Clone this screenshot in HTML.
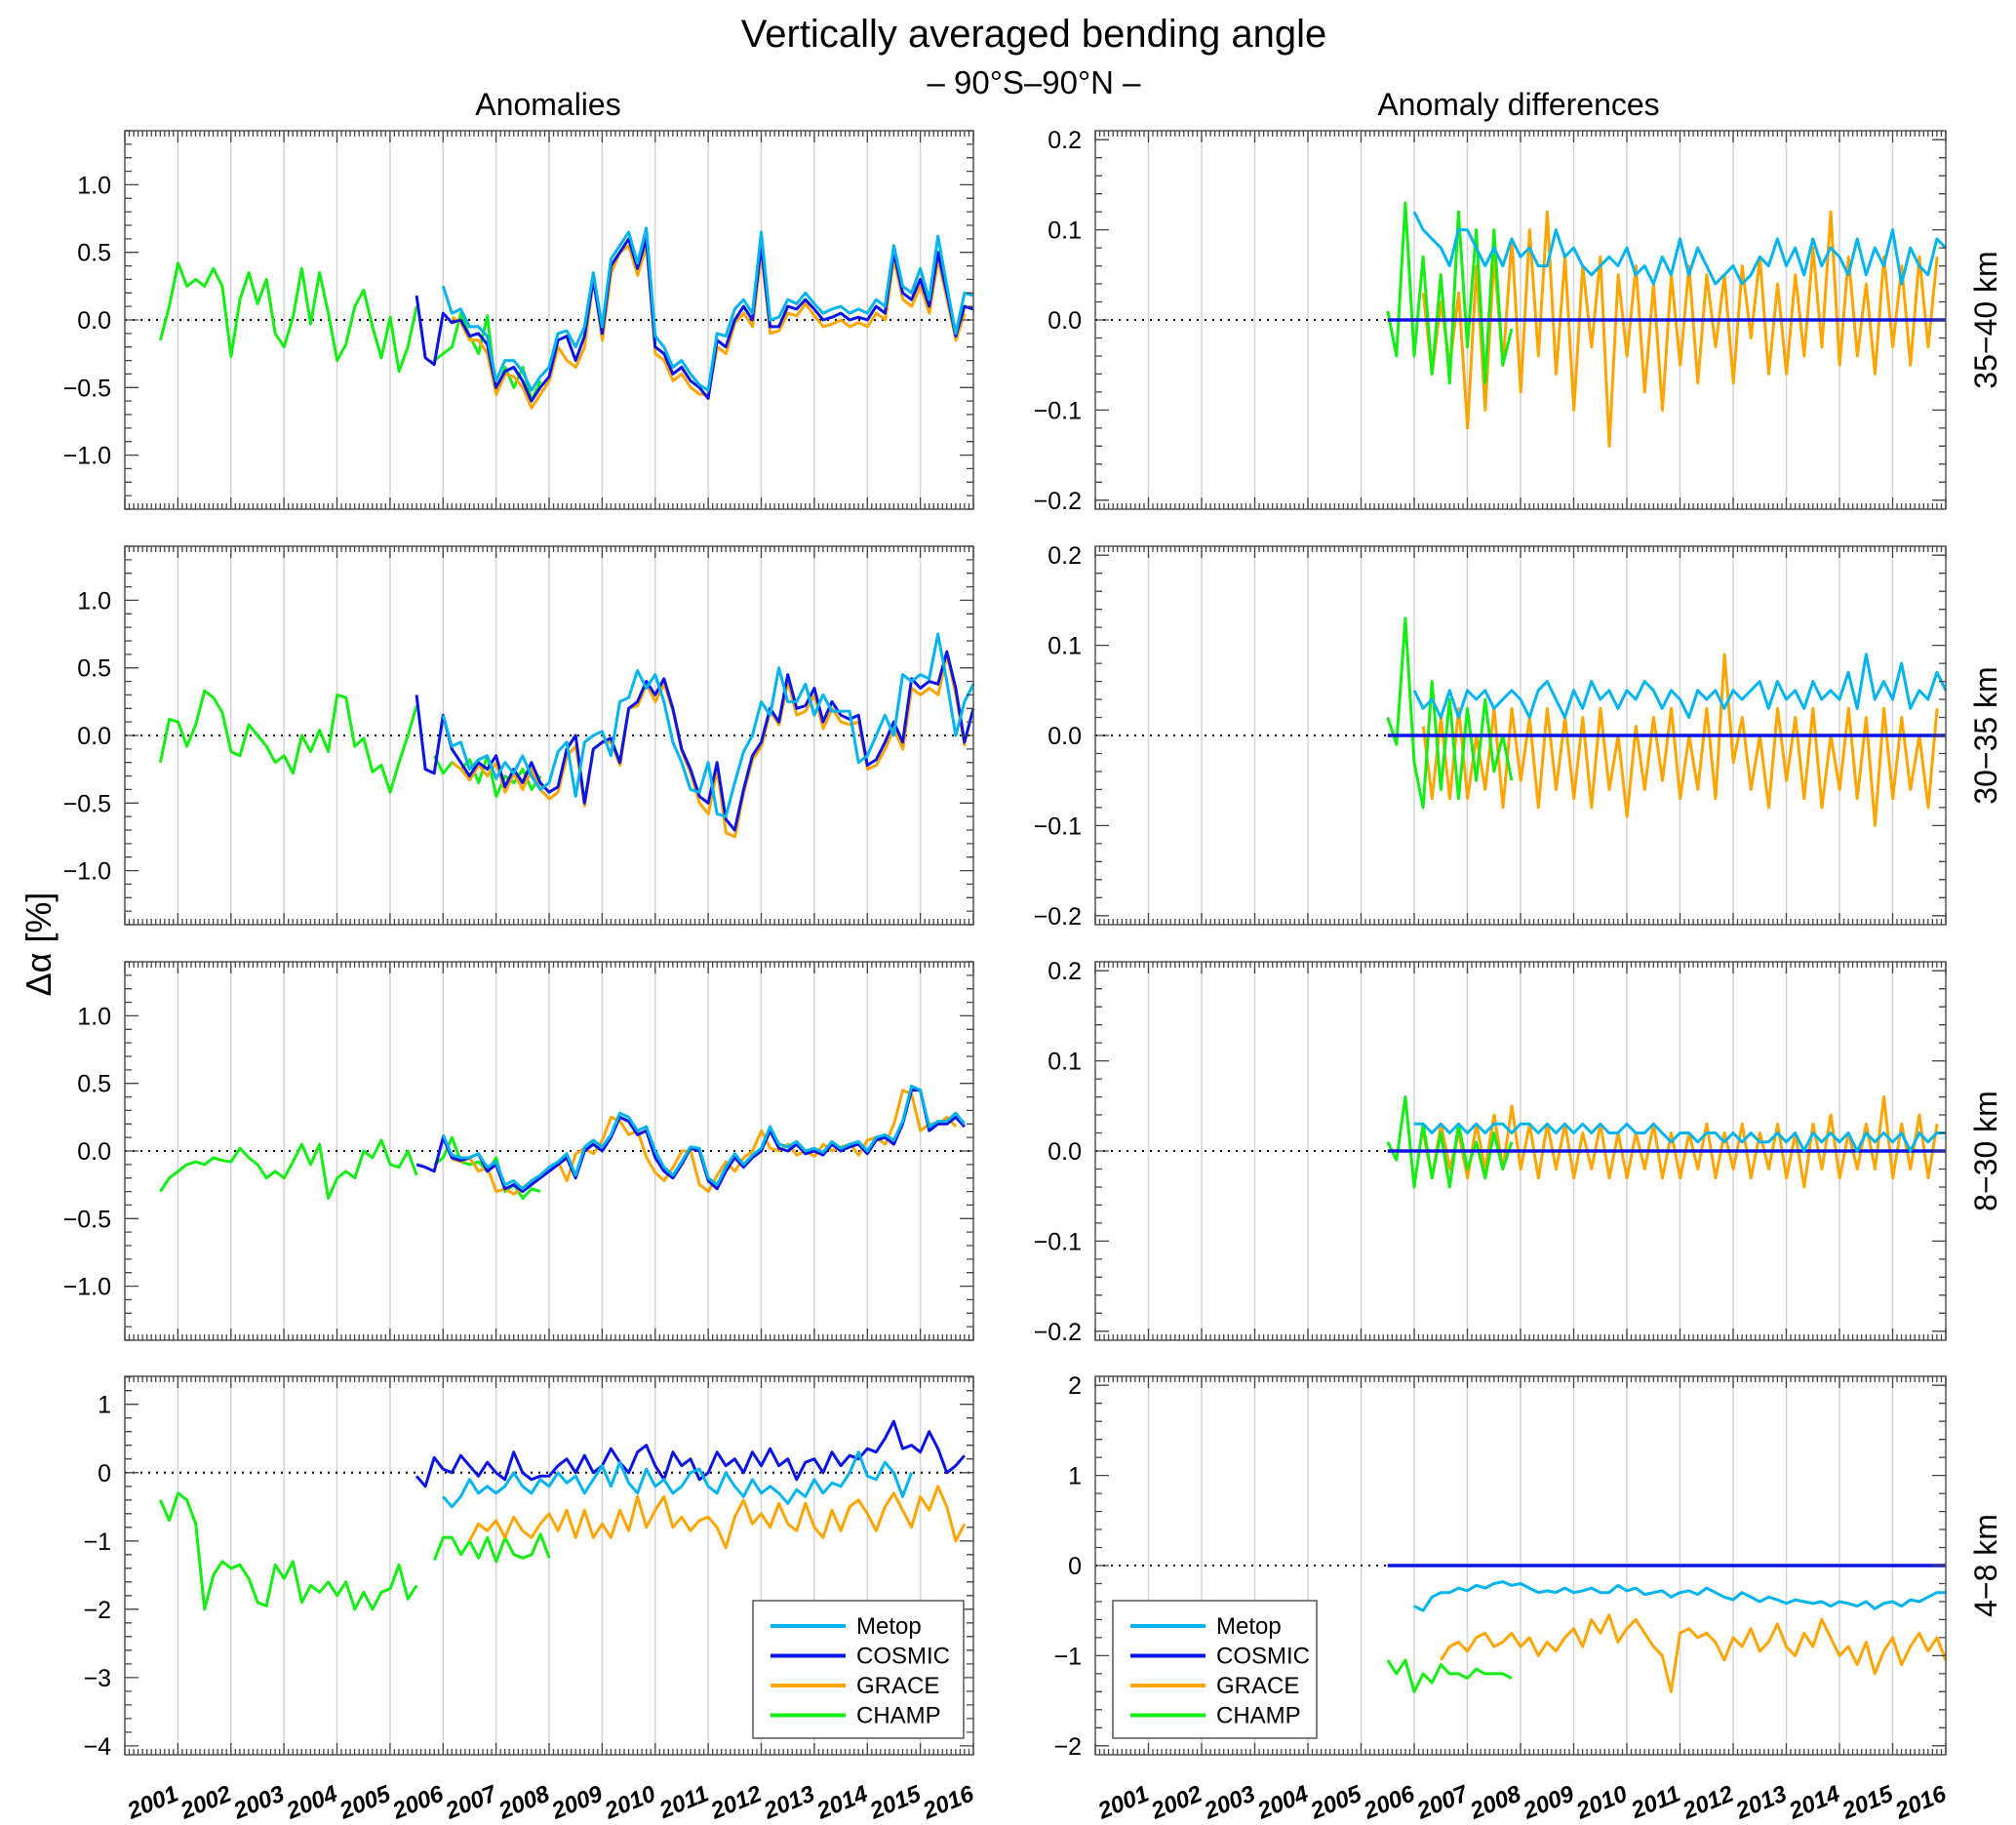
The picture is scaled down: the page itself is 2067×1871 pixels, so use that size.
<!DOCTYPE html>
<html><head><meta charset="utf-8">
<style>
html,body{margin:0;padding:0;background:#fff;}
svg{display:block;font-family:"Liberation Sans",sans-serif;}
</style></head>
<body>
<svg id="fig" width="2067" height="1871" viewBox="0 0 2067 1871" xmlns="http://www.w3.org/2000/svg">
<text x="1060" y="48" font-size="40" text-anchor="middle">Vertically averaged bending angle</text>
<text x="1060" y="96" font-size="33" text-anchor="middle">– 90°S–90°N –</text>
<text x="562" y="118" font-size="32" text-anchor="middle">Anomalies</text>
<text x="1557" y="118" font-size="32" text-anchor="middle">Anomaly differences</text>
<text x="0" y="0" font-size="36" text-anchor="middle" transform="translate(52,968) rotate(-90)">Δα  [%]</text>
</svg>
<script>
// ---------- DATA ----------
const years = [2001,2002,2003,2004,2005,2006,2007,2008,2009,2010,2011,2012,2013,2014,2015,2016];
const layerNames = ["35−40 km","30−35 km","8−30 km","4−8 km"];
const seriesNames = ["Metop","COSMIC","GRACE","CHAMP"];
const champStart = 2000.67, cosmicStart = 2005.5, metopStart = 2006.0, graceStart = 2006.17, step = 1/6;

// Left column (anomalies)
const p1Champ = [-0.15,0.1,0.42,0.25,0.3,0.25,0.38,0.25,-0.27,0.15,0.35,0.12,0.3,-0.1,-0.2,0.02,0.38,-0.03,0.35,0.05,-0.3,-0.18,0.1,0.22,-0.05,-0.28,0.02,-0.38,-0.2,0.1,null,-0.3,-0.25,-0.2,0.05,-0.12,-0.25,0.03,-0.55,-0.35,-0.5,-0.35,-0.6,-0.45];
const p1Cosmic = [0.18,-0.28,-0.33,0.05,-0.02,0.0,-0.12,-0.1,-0.18,-0.5,-0.38,-0.35,-0.45,-0.6,-0.5,-0.42,-0.15,-0.12,-0.3,-0.12,0.3,-0.1,0.4,0.5,0.6,0.38,0.6,-0.2,-0.25,-0.4,-0.35,-0.45,-0.5,-0.58,-0.15,-0.2,0.0,0.1,0.0,0.55,-0.05,-0.05,0.1,0.08,0.15,0.08,0.0,0.02,0.05,0.0,0.02,0.0,0.1,0.05,0.5,0.2,0.15,0.3,0.1,0.5,0.2,-0.12,0.1,0.08];
const p1Metop = [0.25,0.05,0.08,-0.05,-0.05,-0.12,-0.45,-0.3,-0.3,-0.38,-0.52,-0.42,-0.35,-0.1,-0.08,-0.2,-0.05,0.35,-0.05,0.45,0.55,0.65,0.42,0.68,-0.12,-0.2,-0.35,-0.3,-0.4,-0.48,-0.52,-0.1,-0.12,0.08,0.15,0.05,0.65,0.0,0.02,0.15,0.12,0.2,0.12,0.05,0.08,0.1,0.05,0.08,0.05,0.15,0.1,0.55,0.25,0.2,0.38,0.15,0.62,0.25,-0.1,0.2,0.18];
const p1Grace = [0.02,-0.02,-0.15,-0.15,-0.25,-0.55,-0.4,-0.42,-0.5,-0.65,-0.55,-0.45,-0.2,-0.3,-0.35,-0.2,0.3,-0.15,0.35,0.5,0.55,0.33,0.55,-0.25,-0.3,-0.45,-0.4,-0.5,-0.55,-0.55,-0.2,-0.25,-0.02,0.05,-0.05,0.5,-0.1,-0.08,0.05,0.03,0.12,0.03,-0.05,-0.03,0.0,-0.05,-0.02,-0.05,0.05,0.0,0.45,0.15,0.1,0.25,0.05,0.45,0.15,-0.15,0.05,0.05];
const p2Champ = [-0.2,0.12,0.1,-0.08,0.08,0.33,0.28,0.17,-0.12,-0.15,0.08,0.0,-0.08,-0.2,-0.15,-0.28,0.0,-0.12,0.04,-0.12,0.3,0.28,-0.08,-0.02,-0.27,-0.22,-0.42,-0.2,0.0,0.22,null,-0.15,-0.28,-0.2,-0.25,-0.18,-0.35,-0.15,-0.45,-0.3,-0.35,-0.25,-0.4,-0.3];
const p2Cosmic = [0.3,-0.25,-0.28,0.15,-0.1,-0.2,-0.3,-0.2,-0.25,-0.15,-0.38,-0.25,-0.35,-0.2,-0.35,-0.42,-0.38,-0.1,0.0,-0.5,-0.1,-0.05,-0.02,-0.2,0.2,0.25,0.4,0.3,0.42,0.2,-0.1,-0.25,-0.45,-0.5,-0.2,-0.62,-0.7,-0.4,-0.15,-0.05,0.2,0.1,0.45,0.2,0.22,0.35,0.1,0.25,0.15,0.12,0.15,-0.22,-0.18,-0.05,0.1,-0.05,0.42,0.35,0.4,0.38,0.62,0.35,-0.05,0.2,0.3,0.22];
const p2Metop = [0.15,-0.08,-0.05,-0.25,-0.18,-0.15,-0.32,-0.2,-0.28,-0.15,-0.3,-0.4,-0.35,-0.12,-0.05,-0.45,-0.05,0.0,0.03,-0.15,0.25,0.28,0.48,0.35,0.45,0.25,-0.05,-0.2,-0.4,-0.42,-0.2,-0.58,-0.6,-0.35,-0.12,0.0,0.25,0.15,0.5,0.25,0.25,0.38,0.15,0.3,0.18,0.18,0.18,-0.2,-0.15,0.0,0.15,0.0,0.45,0.4,0.45,0.42,0.75,0.4,0.0,0.25,0.38,0.3];
const p2Grace = [-0.2,-0.25,-0.33,-0.22,-0.3,-0.2,-0.42,-0.28,-0.4,-0.25,-0.4,-0.47,-0.42,-0.15,-0.08,-0.52,-0.1,-0.05,-0.05,-0.22,0.2,0.22,0.38,0.25,0.38,0.18,-0.12,-0.28,-0.5,-0.58,-0.25,-0.72,-0.75,-0.42,-0.18,-0.08,0.18,0.08,0.4,0.15,0.18,0.3,0.05,0.2,0.1,0.08,0.1,-0.25,-0.22,-0.1,0.05,-0.1,0.35,0.3,0.35,0.3,0.6,0.3,-0.08,0.15,0.25,0.2];
const p3Champ = [-0.3,-0.2,-0.15,-0.1,-0.08,-0.1,-0.05,-0.07,-0.08,0.02,-0.05,-0.1,-0.2,-0.15,-0.2,-0.08,0.05,-0.1,0.05,-0.35,-0.2,-0.15,-0.2,0.0,-0.05,0.08,-0.1,-0.12,0.0,-0.18,null,-0.1,-0.05,0.1,-0.08,-0.1,-0.08,-0.15,-0.05,-0.3,-0.25,-0.35,-0.28,-0.3];
const p3Cosmic = [-0.1,-0.12,-0.15,0.1,-0.05,-0.07,-0.05,-0.02,-0.15,-0.1,-0.28,-0.25,-0.3,-0.25,-0.2,-0.15,-0.1,-0.05,-0.2,0.0,0.05,0.0,0.1,0.25,0.22,0.12,0.15,-0.05,-0.15,-0.2,-0.1,0.02,0.0,-0.22,-0.28,-0.15,-0.05,-0.12,-0.05,0.0,0.15,0.02,0.0,0.05,-0.02,0.0,-0.03,0.05,0.0,0.03,0.05,-0.02,0.08,0.1,0.05,0.2,0.45,0.45,0.15,0.2,0.2,0.25,0.18];
const p3Metop = [0.12,-0.03,-0.05,-0.05,-0.02,-0.12,-0.08,-0.25,-0.22,-0.28,-0.22,-0.18,-0.12,-0.08,-0.02,-0.18,0.03,0.08,0.03,0.12,0.28,0.25,0.15,0.18,0.0,-0.12,-0.18,-0.08,0.03,0.02,-0.2,-0.25,-0.12,-0.02,-0.1,-0.03,0.02,0.18,0.05,0.03,0.07,0.0,0.02,-0.01,0.07,0.02,0.05,0.07,0.0,0.1,0.12,0.08,0.22,0.48,0.45,0.18,0.22,0.22,0.28,0.2];
const p3Grace = [-0.06,-0.08,-0.05,-0.15,-0.12,-0.3,-0.28,-0.32,-0.27,-0.22,-0.18,-0.12,-0.08,-0.22,-0.02,0.02,-0.02,0.08,0.25,0.22,0.12,0.15,-0.05,-0.16,-0.22,-0.12,0.0,0.0,-0.25,-0.3,-0.18,-0.08,-0.15,-0.05,0.0,0.15,0.02,0.0,0.05,-0.03,0.0,-0.04,0.05,0.0,0.03,0.05,-0.03,0.08,0.1,0.05,0.2,0.45,0.42,0.15,0.2,0.2,0.25,0.18];
const p4Champ = [-0.4,-0.7,-0.3,-0.4,-0.75,-2.0,-1.5,-1.3,-1.4,-1.35,-1.55,-1.9,-1.95,-1.35,-1.55,-1.3,-1.9,-1.65,-1.75,-1.6,-1.8,-1.6,-2.0,-1.75,-2.0,-1.75,-1.7,-1.35,-1.85,-1.65,null,-1.28,-0.95,-0.95,-1.2,-1.0,-1.25,-0.95,-1.3,-0.95,-1.2,-1.25,-1.2,-0.9,-1.25];
const p4Cosmic = [-0.05,-0.2,0.22,0.05,0.0,0.25,0.1,-0.05,0.15,0.0,-0.1,0.3,0.0,-0.1,-0.05,-0.05,0.1,0.2,0.0,0.25,0.0,0.1,0.35,0.15,0.0,0.3,0.4,0.1,-0.1,0.3,0.1,0.2,-0.1,0.0,0.3,0.1,0.2,0.0,0.3,0.1,0.35,0.1,0.2,-0.1,0.15,0.2,0.0,0.3,0.1,0.25,0.2,0.35,0.3,0.5,0.75,0.35,0.4,0.3,0.6,0.35,0.0,0.1,0.25];
const p4Metop = [-0.35,-0.5,-0.35,-0.1,-0.3,-0.2,-0.3,-0.2,0.0,-0.2,-0.3,-0.1,-0.2,0.0,-0.15,-0.05,-0.3,-0.1,0.1,-0.2,0.15,-0.15,-0.3,0.05,-0.2,-0.1,-0.3,-0.2,0.0,0.05,-0.2,-0.3,0.0,-0.2,-0.35,-0.1,-0.3,-0.2,-0.3,-0.45,-0.25,-0.35,-0.1,-0.3,-0.15,-0.2,0.0,0.3,-0.05,-0.1,0.15,0.0,-0.35,0.0];
const p4Grace = [-1.0,-0.75,-0.85,-0.7,-0.95,-0.65,-0.85,-0.95,-0.75,-0.6,-0.85,-0.55,-0.95,-0.55,-0.95,-0.75,-0.95,-0.55,-0.85,-0.35,-0.8,-0.55,-0.35,-0.8,-0.65,-0.85,-0.7,-0.65,-0.8,-1.1,-0.65,-0.4,-0.75,-0.6,-0.8,-0.45,-0.75,-0.85,-0.45,-0.8,-0.95,-0.55,-0.85,-0.5,-0.4,-0.6,-0.85,-0.5,-0.3,-0.55,-0.8,-0.35,-0.55,-0.2,-0.5,-1.0,-0.75];

// Right column (anomaly differences relative to COSMIC)
const d1Champ = [0.01,-0.04,0.13,-0.04,0.07,-0.06,0.05,-0.07,0.12,-0.03,0.1,-0.07,0.1,-0.05,-0.01];
const d1Metop = [0.12,0.1,0.09,0.08,0.06,0.1,0.1,0.08,0.06,0.08,0.06,0.09,0.07,0.08,0.06,0.06,0.1,0.07,0.08,0.06,0.05,0.06,0.07,0.06,0.08,0.05,0.06,0.04,0.07,0.05,0.09,0.05,0.08,0.06,0.04,0.05,0.06,0.04,0.05,0.07,0.06,0.09,0.06,0.08,0.05,0.09,0.06,0.08,0.07,0.05,0.09,0.05,0.08,0.06,0.1,0.04,0.08,0.06,0.05,0.09,0.08];
const d1Grace = [0.03,-0.06,0.02,-0.05,0.03,-0.12,0.06,-0.1,0.07,-0.05,0.09,-0.08,0.1,-0.04,0.12,-0.06,0.07,-0.1,0.06,-0.03,0.07,-0.14,0.05,-0.04,0.06,-0.08,0.04,-0.1,0.05,-0.05,0.06,-0.07,0.05,-0.03,0.05,-0.07,0.06,-0.02,0.07,-0.06,0.04,-0.06,0.05,-0.04,0.08,-0.03,0.12,-0.05,0.07,-0.04,0.04,-0.06,0.07,-0.03,0.06,-0.05,0.07,-0.03,0.07];
const d2Champ = [0.02,-0.01,0.13,-0.03,-0.08,0.06,-0.06,0.04,-0.07,0.03,-0.05,0.04,-0.04,0.0,-0.05];
const d2Metop = [0.05,0.03,0.04,0.02,0.05,0.02,0.05,0.04,0.05,0.03,0.04,0.05,0.04,0.02,0.05,0.06,0.04,0.02,0.05,0.03,0.06,0.04,0.05,0.03,0.05,0.04,0.06,0.05,0.03,0.05,0.04,0.02,0.05,0.04,0.05,0.03,0.05,0.04,0.05,0.06,0.03,0.06,0.04,0.05,0.03,0.06,0.04,0.05,0.04,0.07,0.03,0.09,0.04,0.06,0.04,0.08,0.03,0.05,0.04,0.07,0.05];
const d2Grace = [0.01,-0.07,0.02,-0.07,0.03,-0.07,0.0,-0.06,0.03,-0.08,0.03,-0.05,0.02,-0.08,0.03,-0.06,0.02,-0.07,0.02,-0.08,0.03,-0.06,0.0,-0.09,0.01,-0.06,0.02,-0.05,0.03,-0.07,0.0,-0.06,0.03,-0.07,0.09,-0.03,0.02,-0.06,0.0,-0.08,0.03,-0.05,0.02,-0.07,0.03,-0.08,0.0,-0.06,0.03,-0.07,0.02,-0.1,0.03,-0.07,0.02,-0.06,0.0,-0.08,0.03,-0.04];
const d3Champ = [0.01,-0.01,0.06,-0.04,0.03,-0.03,0.02,-0.04,0.03,-0.02,0.01,-0.03,0.02,-0.02,0.01];
const d3Metop = [0.03,0.03,0.02,0.03,0.02,0.03,0.02,0.03,0.02,0.03,0.03,0.02,0.03,0.03,0.02,0.03,0.02,0.03,0.02,0.03,0.02,0.03,0.02,0.02,0.03,0.02,0.02,0.03,0.02,0.01,0.02,0.02,0.01,0.02,0.02,0.01,0.02,0.01,0.02,0.01,0.01,0.02,0.01,0.02,0.0,0.02,0.01,0.02,0.01,0.02,0.0,0.02,0.01,0.02,0.01,0.02,0.0,0.02,0.01,0.02,0.02];
const d3Grace = [0.02,-0.03,0.03,-0.02,0.02,-0.03,0.03,-0.02,0.04,-0.02,0.05,-0.02,0.03,-0.03,0.03,-0.02,0.03,-0.03,0.02,-0.02,0.03,-0.03,0.02,-0.03,0.02,-0.02,0.03,-0.03,0.02,-0.03,0.02,-0.02,0.03,-0.03,0.02,-0.02,0.03,-0.03,0.02,-0.02,0.03,-0.03,0.02,-0.04,0.03,-0.02,0.04,-0.03,0.02,-0.02,0.03,-0.02,0.06,-0.03,0.03,-0.02,0.04,-0.03,0.03,-0.02];
const d4Champ = [-1.05,-1.2,-1.05,-1.4,-1.2,-1.3,-1.1,-1.2,-1.2,-1.25,-1.15,-1.2,-1.2,-1.2,-1.25];
const d4Metop = [-0.45,-0.5,-0.35,-0.3,-0.3,-0.25,-0.28,-0.22,-0.25,-0.2,-0.18,-0.22,-0.2,-0.25,-0.3,-0.28,-0.3,-0.25,-0.3,-0.28,-0.25,-0.3,-0.3,-0.22,-0.28,-0.25,-0.32,-0.3,-0.28,-0.35,-0.3,-0.28,-0.32,-0.25,-0.3,-0.35,-0.38,-0.3,-0.35,-0.4,-0.35,-0.38,-0.42,-0.38,-0.4,-0.42,-0.4,-0.45,-0.4,-0.42,-0.45,-0.4,-0.48,-0.42,-0.4,-0.45,-0.38,-0.4,-0.35,-0.3,-0.3];
const d4Grace = [-1.05,-0.9,-0.85,-0.95,-0.8,-0.75,-0.9,-0.85,-0.75,-0.9,-0.8,-1.0,-0.85,-0.95,-0.8,-0.7,-0.9,-0.6,-0.75,-0.55,-0.85,-0.7,-0.6,-0.75,-0.9,-1.0,-1.4,-0.75,-0.7,-0.8,-0.75,-0.85,-1.05,-0.8,-0.9,-0.7,-0.95,-0.85,-0.65,-0.9,-1.0,-0.75,-0.9,-0.6,-0.8,-1.0,-0.9,-1.1,-0.85,-1.2,-0.95,-0.8,-1.1,-0.9,-0.75,-0.95,-0.8,-1.05,-0.9,-1.0];
const dCosmic = [0,0,0,0,0,0,0,0,0,0,0,0,0,0,0,0,0,0,0,0,0,0,0,0,0,0,0,0,0,0,0,0,0,0,0,0,0,0,0,0,0,0,0,0,0,0,0,0,0,0,0,0,0,0,0,0,0,0,0,0,0,0,0,0];

// ---------- RENDER ----------
const NS = "http://www.w3.org/2000/svg";
const svg = document.getElementById("fig");
const colors = {Metop:"#00b4f0", COSMIC:"#0a14e6", GRACE:"#ffa500", CHAMP:"#14ee14"};
const XMIN = 2000, XMAX = 2016;
function el(tag, attrs, parent){const e=document.createElementNS(NS,tag);for(const k in attrs)e.setAttribute(k,attrs[k]);(parent||svg).appendChild(e);return e;}

const rowsY = [[134,522],[560,948],[986,1374],[1411,1799]];
const colsX = [[128,998],[1123,1995]];

const panels = [
 {row:0,col:0,ymin:-1.4,ymax:1.4,major:[-1,-0.5,0,0.5,1],labels:["−1.0","−0.5","0.0","0.5","1.0"],minor:0.1,series:[["CHAMP",p1Champ,champStart],["GRACE",p1Grace,graceStart],["COSMIC",p1Cosmic,cosmicStart],["Metop",p1Metop,metopStart]]},
 {row:1,col:0,ymin:-1.4,ymax:1.4,major:[-1,-0.5,0,0.5,1],labels:["−1.0","−0.5","0.0","0.5","1.0"],minor:0.1,series:[["CHAMP",p2Champ,champStart],["GRACE",p2Grace,graceStart],["COSMIC",p2Cosmic,cosmicStart],["Metop",p2Metop,metopStart]]},
 {row:2,col:0,ymin:-1.4,ymax:1.4,major:[-1,-0.5,0,0.5,1],labels:["−1.0","−0.5","0.0","0.5","1.0"],minor:0.1,series:[["CHAMP",p3Champ,champStart],["GRACE",p3Grace,graceStart],["COSMIC",p3Cosmic,cosmicStart],["Metop",p3Metop,metopStart]]},
 {row:3,col:0,ymin:-4.13,ymax:1.41,major:[-4,-3,-2,-1,0,1],labels:["−4","−3","−2","−1","0","1"],minor:0.2,legend:true,series:[["CHAMP",p4Champ,champStart],["GRACE",p4Grace,2006.5],["COSMIC",p4Cosmic,cosmicStart],["Metop",p4Metop,metopStart]]},
 {row:0,col:1,ymin:-0.21,ymax:0.21,major:[-0.2,-0.1,0,0.1,0.2],labels:["−0.2","−0.1","0.0","0.1","0.2"],minor:0.02,series:[["GRACE",d1Grace,graceStart],["CHAMP",d1Champ,cosmicStart],["COSMIC",dCosmic,cosmicStart],["Metop",d1Metop,metopStart]]},
 {row:1,col:1,ymin:-0.21,ymax:0.21,major:[-0.2,-0.1,0,0.1,0.2],labels:["−0.2","−0.1","0.0","0.1","0.2"],minor:0.02,series:[["GRACE",d2Grace,graceStart],["CHAMP",d2Champ,cosmicStart],["COSMIC",dCosmic,cosmicStart],["Metop",d2Metop,metopStart]]},
 {row:2,col:1,ymin:-0.21,ymax:0.21,major:[-0.2,-0.1,0,0.1,0.2],labels:["−0.2","−0.1","0.0","0.1","0.2"],minor:0.02,series:[["GRACE",d3Grace,graceStart],["CHAMP",d3Champ,cosmicStart],["COSMIC",dCosmic,cosmicStart],["Metop",d3Metop,metopStart]]},
 {row:3,col:1,ymin:-2.1,ymax:2.1,major:[-2,-1,0,1,2],labels:["−2","−1","0","1","2"],minor:0.2,legend:true,series:[["GRACE",d4Grace,2006.5],["CHAMP",d4Champ,cosmicStart],["COSMIC",dCosmic,cosmicStart],["Metop",d4Metop,metopStart]]}
];

panels.forEach((p,pi)=>{
  const [x0,x1]=colsX[p.col], [y0,y1]=rowsY[p.row];
  const xs = t => x0 + (t-XMIN)/(XMAX-XMIN)*(x1-x0);
  const ys = v => y1 - (v-p.ymin)/(p.ymax-p.ymin)*(y1-y0);
  const g = el("g",{});
  
  
  years.forEach(yr=>{ if(yr>XMIN && yr<XMAX){ const l=el("line",{x1:xs(yr),x2:xs(yr),y1:y0,y2:y1,stroke:"#d4d4d4","stroke-width":1.5},g);
      }});
  const z=el("line",{x1:x0,x2:x1,y1:ys(0),y2:ys(0),stroke:"#000","stroke-width":2,"stroke-dasharray":"2 6"},g);
   
  p.series.forEach(([name,vals,start])=>{
    let d="", pen=false;
    vals.forEach((v,i)=>{ const t=start+i*step; if(v===null||t>XMAX+1e-6){pen=false;return;}
      d += (pen?"L":"M")+xs(t).toFixed(1)+","+ys(v).toFixed(1); pen=true; });
    const path=el("path",{d:d,fill:"none",stroke:colors[name],"stroke-width":name==="COSMIC"&&p.col===1?3.5:3,"stroke-linejoin":"round"},g);
    
    
  });
  const fr=el("rect",{x:x0,y:y0,width:x1-x0,height:y1-y0,fill:"none",stroke:"#555","stroke-width":1.5},g);
   
  let tk="";
  for(let m=0;m<=(XMAX-XMIN)*12;m++){ const x=xs(XMIN+m/12); const L=(m%12===0)?12:6;
    tk+=`M${x.toFixed(1)},${y1}v${-L}M${x.toFixed(1)},${y0}v${L}`; }
  for(let v=Math.ceil(p.ymin/p.minor-1e-6)*p.minor; v<=p.ymax+1e-9; v+=p.minor){
    const isMaj = p.major.some(m=>Math.abs(m-v)<1e-6); const L=isMaj?14:7; const y=ys(v).toFixed(1);
    tk+=`M${x0},${y}h${L}M${x1},${y}h${-L}`; }
  const tp=el("path",{d:tk,stroke:"#444","stroke-width":1.3,fill:"none"},g);
   
  p.major.forEach((v,i)=>{ const t=el("text",{x:x0-14,y:ys(v)+9,"font-size":25,"text-anchor":"end"},g); t.textContent=p.labels[i];
      });
  if(p.row===3){ years.forEach(yr=>{ const x=xs(yr);
    const t=el("text",{x:0,y:0,"font-size":24,"font-style":"italic","font-weight":"bold","text-anchor":"end",transform:`translate(${x+2},${y1+46}) rotate(-22)`},g);
    t.textContent=String(yr);
      }); }
  if(p.col===1){ const t=el("text",{x:0,y:0,"font-size":32,"text-anchor":"middle",transform:`translate(2047,${(y0+y1)/2}) rotate(-90)`},g);
    t.textContent=layerNames[p.row];   }
  if(p.legend){
    const lx = p.col===0 ? 772 : 1141, ly=1641, lw = p.col===0?216:209, lh=141;
    const lg=el("g",{},g);  
    el("rect",{x:lx,y:ly,width:lw,height:lh,fill:"#fff",stroke:"#555","stroke-width":1.5},lg);
    seriesNames.forEach((n,i)=>{ const yy=ly+26+i*30.5;
      const e=el("g",{},lg);  
      el("line",{x1:lx+18,x2:lx+95,y1:yy,y2:yy,stroke:colors[n],"stroke-width":4},e);
      const t=el("text",{x:lx+106,y:yy+8,"font-size":24},e); t.textContent=n; });
  }
});
</script>
</body></html>
